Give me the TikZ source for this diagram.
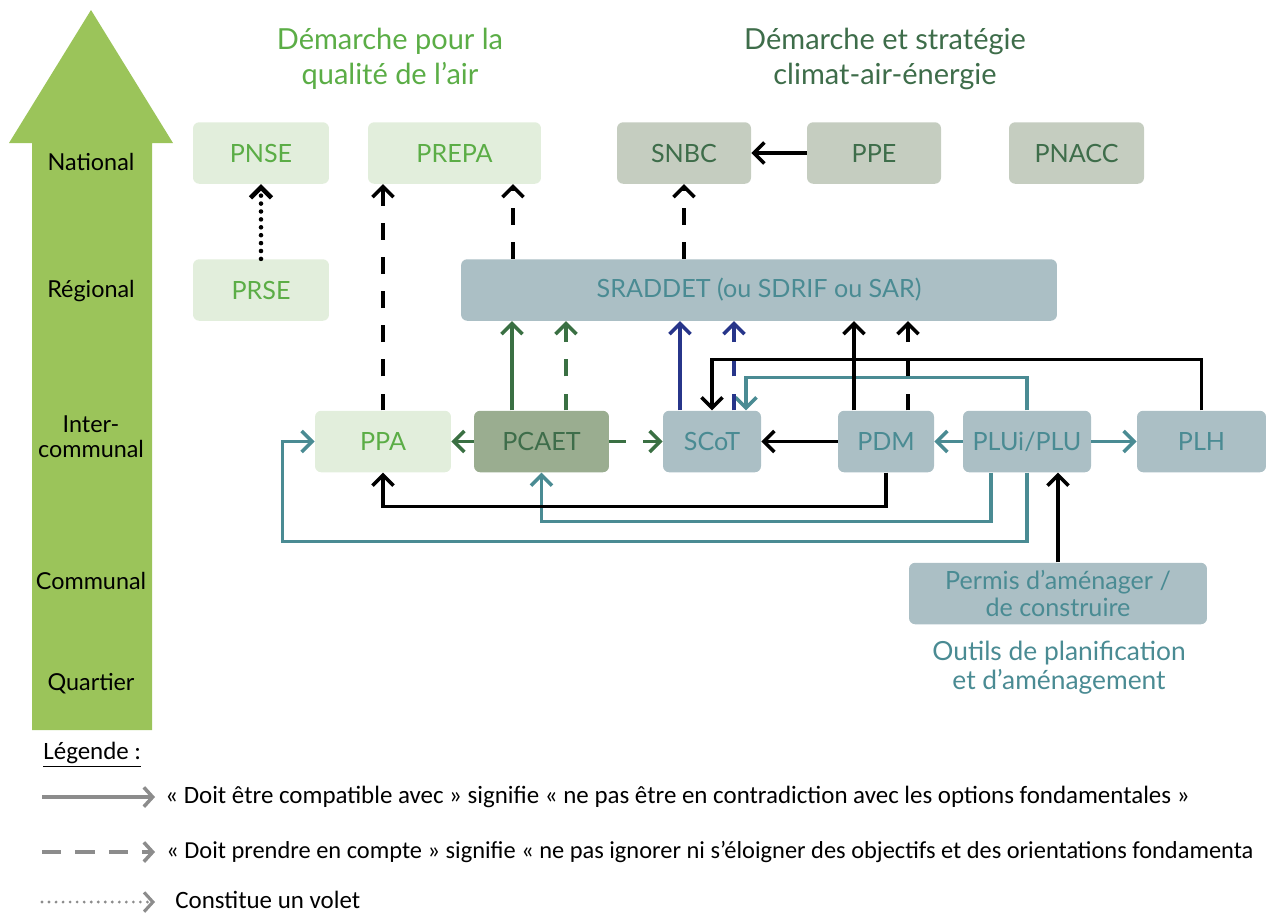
\documentclass[tikz,border=0pt]{standalone}
\usepackage{fontspec}
\setmainfont{Lato}
\newfontfamily\legendfont{Carlito}
\usetikzlibrary{arrows.meta}

\definecolor{airgreen}{HTML}{5BAD46}
\definecolor{airfill}{HTML}{E2EEDC}
\definecolor{climgreen}{HTML}{3E6D4A}
\definecolor{climfill}{HTML}{C5CDC0}
\definecolor{pcaetfill}{HTML}{9AAD90}
\definecolor{planfill}{HTML}{ABBFC5}
\definecolor{planteal}{HTML}{4A8B93}
\definecolor{linegreen}{HTML}{3A7043}
\definecolor{navyline}{HTML}{27358A}
\definecolor{levelgreen}{HTML}{9BC45A}
\definecolor{legendgray}{HTML}{8C8C8C}

\begin{document}
\begin{tikzpicture}[x=0.02cm,y=-0.02cm,
    plan/.style={rectangle,rounded corners=3.5pt,inner sep=0pt,
      minimum height=1.23cm,align=center,font=\fontsize{14.3}{15}\selectfont},
    airbox/.style={plan,fill=airfill,text=airgreen},
    climbox/.style={plan,fill=climfill,text=climgreen},
    urbbox/.style={plan,fill=planfill,text=planteal},
    level/.style={align=center,font=\fontsize{13.3}{14.2}\selectfont},
    heading/.style={align=center,font=\fontsize{16.5}{20}\selectfont},
    legend/.style={anchor=west,inner sep=0pt,font=\legendfont\fontsize{14.2}{16}\selectfont},
    link/.style={line width=2pt,-{Straight Barb[length=6pt,width=12pt]}},
    takes/.style={link,dash pattern=on 9.6pt off 9.8pt},
    part/.style={link,line cap=round,dash pattern=on 0pt off 4.5pt,line width=2.6pt},
    legendlink/.style={legendgray,line width=2pt,-{Straight Barb[length=5pt,width=11pt]}}]

    \useasboundingbox (0,0) rectangle (1266,914);

    %==================== Levels arrow ====================
    \fill[levelgreen] (32,730) -- (32,143) -- (9,143) -- (91,10)
      -- (173,143) -- (152,143) -- (152,730) -- cycle;

    \foreach \lbl/\y in {National/162,Régional/291,Communal/581,Quartier/684} {
      \node[level] (lv\y) at (91,\y) {\lbl};
    }
    \node[level] (lvinter) at (91,437) {Inter-\\communal};

    %==================== Headings ====================
    \node[heading,text=airgreen] (headair) at (390,59) {Démarche pour la\\qualité de l’air};
    \node[heading,text=climgreen] (headclim) at (885,59) {Démarche et stratégie\\climat-air-énergie};
    \node[heading,text=planteal,font=\fontsize{15}{16.5}\selectfont] (headplan) at (1059,668)
      {Outils de planification\\et d’aménagement};

    %==================== Boxes ====================
    % National
    \node[airbox,minimum width=2.72cm] (pnse) at (261,153) {PNSE};
    \node[airbox,minimum width=3.46cm] (prepa) at (454.5,153) {PREPA};
    \node[climbox,minimum width=2.68cm] (snbc) at (684,153) {SNBC};
    \node[climbox,minimum width=2.68cm] (ppe) at (874,153) {PPE};
    \node[climbox,minimum width=2.70cm] (pnacc) at (1076.5,153) {PNACC};

    % Regional
    \node[airbox,minimum width=2.72cm] (prse) at (261,290) {PRSE};
    \node[urbbox,minimum width=11.92cm] (sraddet) at (759,290) {SRADDET (ou SDRIF ou SAR)};

    % Inter-communal
    \node[airbox,minimum width=2.72cm] (ppa) at (383,441.5) {PPA};
    \node[plan,fill=pcaetfill,text=climgreen,minimum width=2.70cm] (pcaet) at (541.5,441.5) {PCAET};
    \node[urbbox,minimum width=1.96cm] (scot) at (712,441.5) {SCoT};
    \node[urbbox,minimum width=1.92cm] (pdm) at (886,441.5) {PDM};
    \node[urbbox,minimum width=2.56cm] (plui) at (1027,441.5) {PLUi/PLU};
    \node[urbbox,minimum width=2.58cm] (plh) at (1201.5,441.5) {PLH};

    % Communal
    \node[urbbox,minimum width=5.96cm] (permis) at (1058,593.5) {Permis d’aménager /\\de construire};

    %==================== Links ====================
    % Up to the national level
    \draw[part] (prse.north) -- (pnse.south);
    \draw[takes] (ppa.north) -- (ppa.north |- prepa.south);
    \draw[takes] ([xshift=1.17cm]prepa.south |- sraddet.north) -- ([xshift=1.17cm]prepa.south);
    \draw[takes] (snbc.south |- sraddet.north) -- (snbc.south);
    \draw[link] (ppe.west) -- (snbc.east);

    % Teal links from PLUi/PLU
    \draw[link,planteal] (plui.north) -- ++(0,-33) -| ([xshift=0.68cm]scot.north);
    \draw[link,planteal] ([xshift=-0.72cm]plui.south) -- ++(0,49) -| (pcaet.south);
    \draw[link,planteal] (plui.south) -- ++(0,69) -| ([xshift=-0.64cm]ppa.west) -- (ppa.west);
    \draw[link,planteal] (plui.west) -- (pdm.east);
    \draw[link,planteal] (plui.east) -- (plh.west);

    % Up to the regional level
    \draw[link,linegreen] ([xshift=-0.59cm]pcaet.north) -- ([xshift=-0.59cm]pcaet.north |- sraddet.south);
    \draw[takes,linegreen] ([xshift=0.49cm]pcaet.north) -- ([xshift=0.49cm]pcaet.north |- sraddet.south);
    \draw[link,navyline] ([xshift=-0.64cm]scot.north) -- ([xshift=-0.64cm]scot.north |- sraddet.south);
    \draw[takes,navyline] ([xshift=0.44cm]scot.north) -- ([xshift=0.44cm]scot.north |- sraddet.south);
    \draw[link] ([xshift=-0.64cm]pdm.north) -- ([xshift=-0.64cm]pdm.north |- sraddet.south);
    \draw[takes] ([xshift=0.44cm]pdm.north) -- ([xshift=0.44cm]pdm.north |- sraddet.south);

    % Inter-communal links
    \draw[link,linegreen] (pcaet.west) -- (ppa.east);
    \draw[takes,linegreen] (pcaet.east) -- (scot.west);
    \draw[link] (pdm.west) -- (scot.east);
    \draw[link] (plh.north) -- ++(0,-51) -| (scot.north);
    \draw[link] (pdm.south) -- ++(0,34) -| (ppa.south);
    \draw[link] (permis.north) -- (permis.north |- plui.south);

    %==================== Legend ====================
    \node[legend] (legtitle) at (43,755) {\underline{Légende :}};

    \coordinate (lg1a) at (42,797);
    \coordinate (lg1b) at (155,797);
    \coordinate (lg2a) at (42,852);
    \coordinate (lg2b) at (155,852);
    \coordinate (lg3a) at (42,902);
    \coordinate (lg3b) at (155,902);

    \draw[legendlink] (lg1a) -- (lg1b);
    \draw[legendlink,dash pattern=on 11pt off 8pt] (lg2a) -- (lg2b);
    \draw[legendlink,line width=1.8pt,line cap=round,dash pattern=on 0pt off 4pt] (lg3a) -- (lg3b);

    \node[legend] (lg1) at (165,797) {« Doit être compatible avec » signifie « ne pas être en contradiction avec les options fondamentales »};
    \node[legend,font=\legendfont\fontsize{13.9}{16}\selectfont] (lg2) at (166,852) {« Doit prendre en compte » signifie « ne pas ignorer ni s’éloigner des objectifs et des orientations fondamenta};
    \node[legend] (lg3) at (175,900) {Constitue un volet};

  \end{tikzpicture}
\end{document}
